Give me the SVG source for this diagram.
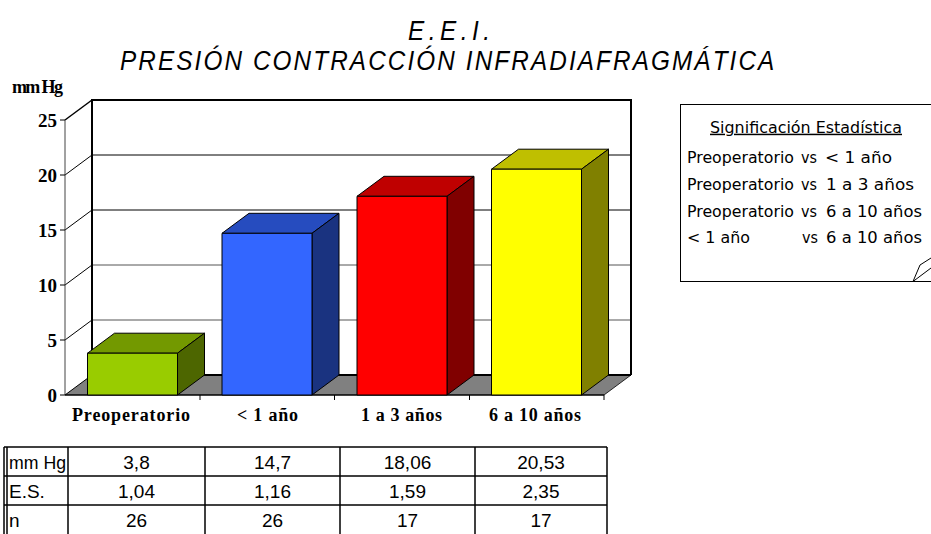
<svg xmlns="http://www.w3.org/2000/svg" width="931" height="534" viewBox="0 0 931 534">
<style>
.title{font-family:"Liberation Sans",Arial,sans-serif;font-style:italic;fill:#000}
.ax{font-family:"Liberation Serif","Times New Roman",serif;font-weight:bold;font-size:18px;fill:#000}
.yl{font-family:"Liberation Serif","Times New Roman",serif;font-weight:bold;font-size:19px;fill:#000}
.leg{font-family:"DejaVu Sans",Verdana,sans-serif;font-size:15px;fill:#000}
.tb{font-family:"Liberation Sans",Arial,sans-serif;font-size:19px;fill:#000}
.grid{stroke:#000;stroke-width:1;fill:none}
.edge{stroke:#000;fill:none}
.bar{stroke:#000;stroke-width:1;stroke-linejoin:round}
</style>
<rect width="931" height="534" fill="#fff"/>
<g id="title">
<text class="title" transform="translate(408,40) scale(0.9,1)" x="0" y="0" font-size="27" textLength="91" lengthAdjust="spacing">E.E.I.</text>
<text class="title" transform="translate(120,70) scale(0.9,1)" x="0" y="0" font-size="27" textLength="727" lengthAdjust="spacing">PRESIÓN CONTRACCIÓN INFRADIAFRAGMÁTICA</text>
</g>
<g id="chart-frame">
<rect x="92" y="100" width="539" height="275" fill="#fff"/>
<g class="grid">
<line x1="92" y1="155" x2="631" y2="155"/>
<line x1="92" y1="210" x2="631" y2="210"/>
<line x1="92" y1="265" x2="631" y2="265" stroke="#555"/>
<line x1="92" y1="320" x2="631" y2="320" stroke="#555"/>
<line x1="65" y1="175" x2="92" y2="155"/>
<line x1="65" y1="230" x2="92" y2="210"/>
<line x1="65" y1="285" x2="92" y2="265"/>
<line x1="65" y1="340" x2="92" y2="320"/>
</g>
<polygon points="65,395 604,395 631,375 92,375" fill="#808080"/>
<line x1="92" y1="375" x2="631" y2="375" stroke="#000" stroke-width="2"/>
<line x1="65" y1="395" x2="92" y2="375" stroke="#000"/>
<line x1="604" y1="395" x2="631" y2="375" stroke="#000" stroke-width="0.8"/>
<path class="edge" d="M92,375 V100 H631 V375" stroke-width="2"/>
<line x1="65" y1="120" x2="92" y2="100" stroke="#000" stroke-width="1.5"/>
<line x1="65" y1="120" x2="65" y2="395" stroke="#444" stroke-width="1"/>
<line x1="65" y1="395" x2="604" y2="395" stroke="#000" stroke-width="1.5"/>
<g stroke="#000" stroke-width="1">
<line x1="60" y1="120" x2="65" y2="120"/>
<line x1="60" y1="175" x2="65" y2="175"/>
<line x1="60" y1="230" x2="65" y2="230"/>
<line x1="60" y1="285" x2="65" y2="285"/>
<line x1="60" y1="340" x2="65" y2="340"/>
<line x1="60" y1="395" x2="65" y2="395"/>
<line x1="200" y1="395" x2="200" y2="400"/>
<line x1="334.5" y1="395" x2="334.5" y2="400"/>
<line x1="469.5" y1="395" x2="469.5" y2="400"/>
<line x1="604" y1="395" x2="604" y2="400"/>
</g>
</g>
<g id="y-axis-labels">
<text class="ax" x="12" y="93" font-size="13" textLength="51" lengthAdjust="spacing">mm Hg</text>
<text class="yl" x="57" y="126.5" text-anchor="end">25</text>
<text class="yl" x="57" y="181.5" text-anchor="end">20</text>
<text class="yl" x="57" y="236.5" text-anchor="end">15</text>
<text class="yl" x="57" y="291.5" text-anchor="end">10</text>
<text class="yl" x="57" y="346.5" text-anchor="end">5</text>
<text class="yl" x="57" y="401.5" text-anchor="end">0</text>
</g>
<g id="x-axis-labels">
<text class="ax" x="72" y="421" textLength="118" lengthAdjust="spacing">Preoperatorio</text>
<text class="ax" x="237" y="421" textLength="61" lengthAdjust="spacing">&lt; 1 año</text>
<text class="ax" x="361" y="421" textLength="81" lengthAdjust="spacing">1 a 3 años</text>
<text class="ax" x="489" y="421" textLength="92" lengthAdjust="spacing">6 a 10 años</text>
</g>
<g id="bar-preoperatorio" class="bar">
<polygon points="87.5,353.2 177.5,353.2 204.5,333.2 114.5,333.2" fill="#739900"/>
<polygon points="177.5,353.2 204.5,333.2 204.5,375 177.5,395" fill="#4D6600"/>
<rect x="87.5" y="353.2" width="90" height="41.8" fill="#99CC00"/>
</g>
<g id="bar-menos-1-ano" class="bar">
<polygon points="222,233.3 312,233.3 339,213.3 249,213.3" fill="#264CBF"/>
<polygon points="312,233.3 339,213.3 339,375 312,395" fill="#1A3380"/>
<rect x="222" y="233.3" width="90" height="161.7" fill="#3366FF"/>
</g>
<g id="bar-1-a-3-anos" class="bar">
<polygon points="357,196.3 447,196.3 474,176.3 384,176.3" fill="#BF0000"/>
<polygon points="447,196.3 474,176.3 474,375 447,395" fill="#800000"/>
<rect x="357" y="196.3" width="90" height="198.7" fill="#FF0000"/>
</g>
<g id="bar-6-a-10-anos" class="bar">
<polygon points="491.5,169.2 581.5,169.2 608.5,149.2 518.5,149.2" fill="#BFBF00"/>
<polygon points="581.5,169.2 608.5,149.2 608.5,375 581.5,395" fill="#808000"/>
<rect x="491.5" y="169.2" width="90" height="225.8" fill="#FFFF00"/>
</g>
<g id="legend">
<rect x="680.5" y="104.5" width="260" height="177" fill="#fff" stroke="#000" stroke-width="1"/>
<path d="M913,281.5 L920,265 L931,258 M913,281.5 L931,268" fill="#fff" stroke="#000" stroke-width="1"/>
<text class="leg" x="710" y="132.7" textLength="192" lengthAdjust="spacingAndGlyphs" text-decoration="underline">Significación Estadística</text>
<text class="leg" x="687" y="162.7" textLength="107" lengthAdjust="spacingAndGlyphs">Preoperatorio</text>
<text class="leg" x="801" y="162.7" textLength="16" lengthAdjust="spacingAndGlyphs">vs</text>
<text class="leg" x="825" y="162.7" textLength="67" lengthAdjust="spacingAndGlyphs">&lt; 1 año</text>
<text class="leg" x="687" y="189.5" textLength="107" lengthAdjust="spacingAndGlyphs">Preoperatorio</text>
<text class="leg" x="801" y="189.5" textLength="16" lengthAdjust="spacingAndGlyphs">vs</text>
<text class="leg" x="826" y="189.5" textLength="88" lengthAdjust="spacingAndGlyphs">1 a 3 años</text>
<text class="leg" x="687" y="216.5" textLength="107" lengthAdjust="spacingAndGlyphs">Preoperatorio</text>
<text class="leg" x="801" y="216.5" textLength="16" lengthAdjust="spacingAndGlyphs">vs</text>
<text class="leg" x="826" y="216.5" textLength="96" lengthAdjust="spacingAndGlyphs">6 a 10 años</text>
<text class="leg" x="687" y="243.3" textLength="63" lengthAdjust="spacingAndGlyphs">&lt; 1 año</text>
<text class="leg" x="802" y="243.3" textLength="16" lengthAdjust="spacingAndGlyphs">vs</text>
<text class="leg" x="826" y="243.3" textLength="96" lengthAdjust="spacingAndGlyphs">6 a 10 años</text>
</g>
<g id="data-table">
<g stroke="#000" fill="none" stroke-width="1.5">
<line x1="4" y1="447" x2="4" y2="534"/>
<line x1="7" y1="447" x2="7" y2="534"/>
<line x1="4" y1="447" x2="607" y2="447"/>
<line x1="4" y1="476" x2="607" y2="476"/>
<line x1="4" y1="505" x2="607" y2="505"/>
<line x1="68" y1="447" x2="68" y2="534"/>
<line x1="205" y1="447" x2="205" y2="534"/>
<line x1="340" y1="447" x2="340" y2="534"/>
<line x1="475" y1="447" x2="475" y2="534"/>
<line x1="607" y1="447" x2="607" y2="534"/>
</g>
<text class="tb" x="9" y="468.5" textLength="57" lengthAdjust="spacingAndGlyphs">mm Hg</text>
<text class="tb" x="9" y="497.5">E.S.</text>
<text class="tb" x="9" y="526.5">n</text>
<g text-anchor="middle">
<text class="tb" x="136.5" y="468.5">3,8</text>
<text class="tb" x="272.5" y="468.5">14,7</text>
<text class="tb" x="407.5" y="468.5">18,06</text>
<text class="tb" x="541" y="468.5">20,53</text>
<text class="tb" x="136.5" y="497.5">1,04</text>
<text class="tb" x="272.5" y="497.5">1,16</text>
<text class="tb" x="407.5" y="497.5">1,59</text>
<text class="tb" x="541" y="497.5">2,35</text>
<text class="tb" x="136.5" y="526.5">26</text>
<text class="tb" x="272.5" y="526.5">26</text>
<text class="tb" x="407.5" y="526.5">17</text>
<text class="tb" x="541" y="526.5">17</text>
</g>
</g>
</svg>
